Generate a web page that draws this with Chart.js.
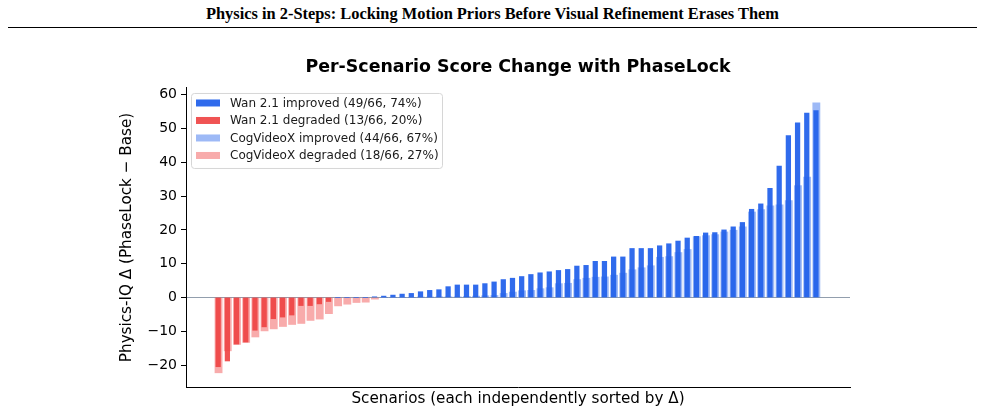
<!DOCTYPE html>
<html>
<head>
<meta charset="utf-8">
<script src="https://cdn.jsdelivr.net/npm/chart.js@4.4.1/dist/chart.umd.min.js"></script>
<style>
    html, body { margin: 0; padding: 0; background: #fff; }
    #wrap { position: relative; width: 985px; height: 414px; }
    #header { position: absolute; left: 0; top: 4px; width: 985px; text-align: center;
              font: bold 16.4px "Liberation Serif", serif; color: #000; }
    #rule { position: absolute; left: 8px; top: 26.5px; width: 969px; border-top: 1.5px solid #000; }
    #chart { position: absolute; left: 0; top: 0; }
</style>
</head>
<body>
<div id="wrap">
    <div id="header">Physics in 2-Steps: Locking Motion Priors Before Visual Refinement Erases Them</div>
    <div id="rule"></div>
    <canvas id="chart" width="985" height="414"></canvas>
</div>
<script>
// Per-scenario delta (PhaseLock - Base), each model sorted on its own
var wanDelta = [
    -20.5, -18.8, -13.8, -13.2, -9.7, -8.7, -6.3, -5.8, -5.2, -2.4, -2.4, -1.9, -1.2,
    0, 0, 0, 0,
    0.2, 0.4, 0.7, 1.0, 1.2, 1.7, 2.1, 2.3, 3.2, 3.7, 3.7, 3.7, 4.1, 4.6, 5.3, 5.7,
    6.2, 6.8, 7.3, 7.6, 8.0, 8.3, 9.3, 9.5, 10.7, 10.7, 12.0, 12.0, 14.5, 14.5, 14.5, 15.3,
    15.9, 16.7, 17.6, 18.1, 19.1, 19.2, 20.0, 20.9, 22.2, 26.1, 27.7, 32.3, 38.9, 47.9,
    51.7, 54.6, 55.3
];
var cogDelta = [
    -22.3, -15.8, -13.9, -13.3, -11.7, -9.9, -9.3, -8.6, -8.0, -7.7, -6.8, -6.4, -4.8,
    -2.5, -2.0, -1.5, -1.4, -0.5,
    0, 0, 0, 0,
    0.1, 0.1, 0.2, 0.2, 0.2, 0.3, 0.4, 0.5, 0.6, 1.2, 1.6, 2.0, 2.1, 2.6, 2.9, 4.1, 4.2, 5.3, 5.7,
    6.0, 6.1, 6.6, 7.2, 8.2, 8.8, 9.4, 11.9, 12.1, 13.3, 14.2, 18.0, 18.3, 18.6, 19.4, 19.9, 20.9,
    25.3, 26.0, 27.1, 27.4, 28.7, 33.1, 35.6, 57.6
];
var yTicks = [-20, -10, 0, 10, 20, 30, 40, 50, 60];
var modelNames = ["Wan 2.1", "CogVideoX"];

var wanUp = "rgba(37,99,235,0.95)", wanDown = "rgba(239,68,68,0.92)";
var cogUp = "rgba(37,99,235,0.45)", cogDown = "rgba(239,68,68,0.45)";
var cogShift = 0.04;
var font = "DejaVu Sans";

function countIf(arr, test) {
    var n = 0;
    for (var i = 0; i < arr.length; i++) if (test(arr[i])) n++;
    return n;
}

function legendText(name, kind, n, total) {
    return name + " " + kind + " (" + n + "/" + total + ", " + Math.round(100 * n / total) + "%)";
}

var legendItems = [
    { color: wanUp, text: legendText(modelNames[0], "improved", countIf(wanDelta, function (v) { return v > 0; }), wanDelta.length) },
    { color: wanDown, text: legendText(modelNames[0], "degraded", countIf(wanDelta, function (v) { return v < 0; }), wanDelta.length) },
    { color: cogUp, text: legendText(modelNames[1], "improved", countIf(cogDelta, function (v) { return v > 0; }), cogDelta.length) },
    { color: cogDown, text: legendText(modelNames[1], "degraded", countIf(cogDelta, function (v) { return v < 0; }), cogDelta.length) }
];

// legend box drawn inside the plot, top left
var boxLegend = {
    id: "boxLegend",
    afterDatasetsDraw: function (chart) {
        var ctx = chart.ctx, area = chart.chartArea;
        var x = area.left + 5, y = area.top + 5, w = 251, h = 75;
        ctx.save();
        ctx.beginPath();
        ctx.roundRect(x + 0.5, y + 0.5, w, h, 3);
        ctx.fillStyle = "rgba(255,255,255,0.85)";
        ctx.fill();
        ctx.strokeStyle = "#d6d6d6";
        ctx.lineWidth = 1;
        ctx.stroke();
        ctx.font = "12px '" + font + "'";
        ctx.textBaseline = "middle";
        for (var i = 0; i < legendItems.length; i++) {
            var cy = y + 10.5 + i * 17.5;
            ctx.fillStyle = legendItems[i].color;
            ctx.fillRect(x + 5, cy - 4, 24, 7);
            ctx.fillStyle = "#1a1a1a";
            ctx.fillText(legendItems[i].text, x + 39, cy);
        }
        ctx.restore();
    }
};

function toPoints(arr, shift) {
    return arr.map(function (v, i) { return { x: i + shift, y: v }; });
}

var chart = new Chart(document.getElementById("chart").getContext("2d"), {
    type: "bar",
    data: {
        datasets: [
            {
                label: modelNames[1],
                data: toPoints(cogDelta, cogShift),
                backgroundColor: function (c) { return c.raw && c.raw.y < 0 ? cogDown : cogUp; },
                barThickness: 7.2,
                grouped: false,
                order: 2
            },
            {
                label: modelNames[0],
                data: toPoints(wanDelta, 0),
                backgroundColor: function (c) { return c.raw && c.raw.y < 0 ? wanDown : wanUp; },
                barThickness: 4.6,
                grouped: false,
                order: 1
            }
        ]
    },
    options: {
        responsive: false,
        animation: false,
        layout: { padding: { left: 110, right: 135, top: 57, bottom: 0 } },
        plugins: {
            legend: { display: false },
            tooltip: { enabled: false },
            title: {
                display: true,
                fullSize: false,
                text: "Per-Scenario Score Change with PhaseLock",
                color: "#000",
                font: { family: font, size: 17.4, weight: "bold" },
                padding: { top: 0, bottom: 10.1 }
            }
        },
        scales: {
            x: {
                type: "linear",
                min: -3.5,
                max: 68.7,
                offset: false,
                afterBuildTicks: function (s) { s.ticks = []; },
                afterFit: function (s) { s.height = 27; },
                ticks: { display: false },
                grid: { display: false },
                border: { display: true, color: "#000", width: 1 },
                title: {
                    display: true,
                    text: "Scenarios (each independently sorted by \u0394)",
                    color: "#000",
                    font: { family: font, size: 15.2 },
                    padding: { top: 0, bottom: 5.9 }
                }
            },
            y: {
                min: -26.5,
                max: 62,
                afterBuildTicks: function (s) { s.ticks = yTicks.map(function (v) { return { value: v }; }); },
                afterFit: function (s) { s.width = 76; },
                ticks: {
                    color: "#000",
                    padding: 4,
                    font: { family: font, size: 14 },
                    callback: function (v) { return String(v).replace("-", "\u2212"); }
                },
                grid: {
                    drawOnChartArea: true,
                    color: function (c) { return c.tick && c.tick.value === 0 ? "rgba(110,125,145,0.75)" : "rgba(0,0,0,0)"; },
                    tickColor: "#000",
                    tickLength: 5,
                    lineWidth: 1
                },
                border: { display: true, color: "#000", width: 1 },
                title: {
                    display: true,
                    text: "Physics-IQ \u0394 (PhaseLock \u2212 Base)",
                    color: "#000",
                    font: { family: font, size: 15.2 },
                    padding: { top: 7.9, bottom: 0 }
                }
            }
        }
    },
    plugins: [boxLegend]
});
</script>
</body>
</html>
